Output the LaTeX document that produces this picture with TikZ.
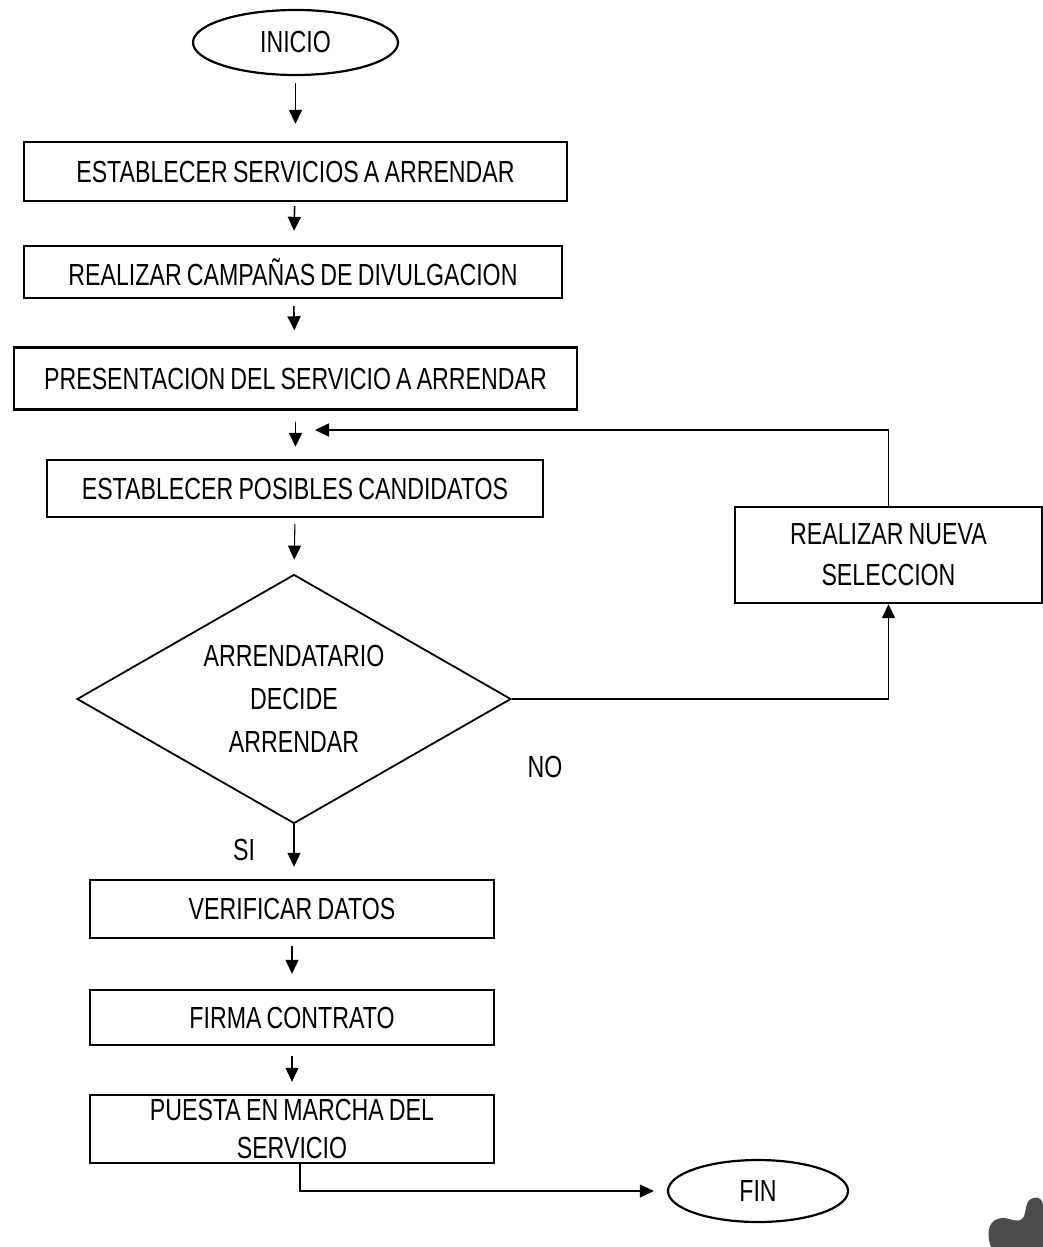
\documentclass[tikz,border=0pt]{standalone}
\usepackage{fontspec}
\setmainfont{Liberation Sans}[FakeStretch=0.76, WordSpace=0.8]
\usetikzlibrary{shapes.geometric,arrows.meta,calc}
\begin{document}
\begin{tikzpicture}[x=1pt,y=-1pt,
  every node/.style={font=\fontsize{30.5}{41}\selectfont, inner sep=0pt},
  procbox/.style={draw, line width=2.4pt, rectangle, align=center},
  term/.style={draw, line width=2.2pt, ellipse, inner sep=0pt},
  decis/.style={draw, line width=1.8pt, diamond, aspect=1.743, minimum width=434pt, minimum height=249pt, align=center},
  arr/.style={line width=1.6pt, -{Triangle[length=14pt,width=13pt]}},
  thinarr/.style={line width=1.1pt, -{Triangle[length=14pt,width=13pt]}}
]
\useasboundingbox (0,0) rectangle (1043,1247);

\node[term, minimum width=205pt, minimum height=65pt] (inicio) at (295.5,42.5) {INICIO};
\node[procbox, minimum width=543pt, minimum height=59pt] (b1) at (295.5,171.5) {ESTABLECER SERVICIOS A ARRENDAR};
\node[procbox, minimum width=538pt, minimum height=52pt] (b2) at (293,272) {REALIZAR CAMPAÑAS DE DIVULGACION};
\node[procbox, minimum width=563pt, minimum height=62pt] (b3) at (295.5,378.5) {PRESENTACION DEL SERVICIO A ARRENDAR};
\node[procbox, minimum width=496pt, minimum height=57pt] (b4) at (295,488.5) {ESTABLECER POSIBLES CANDIDATOS};
\node[decis, font=\fontsize{30.5}{43}\selectfont] (dia) at (294,699) {ARRENDATARIO\\DECIDE\\ARRENDAR};
\node[procbox, minimum width=307pt, minimum height=96pt] (nueva) at (888.5,555) {REALIZAR NUEVA\\SELECCION};
\node[procbox, minimum width=404pt, minimum height=58pt] (verif) at (292,909) {VERIFICAR DATOS};
\node[procbox, minimum width=404pt, minimum height=55pt] (firma) at (292,1017.5) {FIRMA CONTRATO};
\node[procbox, minimum width=404pt, minimum height=68pt, font=\fontsize{30.5}{38}\selectfont] (puesta) at (292,1129) {PUESTA EN MARCHA DEL\\SERVICIO};
\node[term, minimum width=180pt, minimum height=62pt] (fin) at (758,1191) {FIN};

\node (no) at (545,767) {NO};
\node (si) at (244,850) {SI};

\coordinate (loopend) at (315,430);

\draw[arr, shorten <=7pt, shorten >=17pt] (inicio) -- (b1);
\draw[arr, shorten <=4pt, shorten >=14pt] (b1) -- (b2);
\draw[arr, shorten <=7pt, shorten >=16pt] (b2) -- (b3);
\draw[arr, shorten <=11pt, shorten >=12pt] (b3.south) -- (b3.south |- b4.north);
\draw[thinarr, shorten <=6pt, shorten >=14pt] (b4.south) -- (dia.north);
\draw[thinarr, shorten >=12pt] (dia.south) -- (dia.south |- verif.north);
\draw[thinarr, shorten <=7pt, shorten >=15pt] (verif) -- (firma);
\draw[thinarr, shorten <=10pt, shorten >=12pt] (firma) -- (puesta);
\draw[thinarr, shorten >=13pt] ([xshift=8pt]puesta.south) |- (fin.west);
\draw[arr] (dia.east) -| (nueva.south);
\draw[arr] (nueva.north) |- (loopend);

\fill[black!70] (991,1247) .. controls (985,1230) and (990,1219) .. (1002,1218)
  .. controls (1012,1218) and (1017,1224) .. (1023,1218)
  .. controls (1027,1212) and (1024,1201) .. (1033,1198)
  .. controls (1040,1196) and (1043,1201) .. (1043,1206)
  -- (1043,1247) -- cycle;
\end{tikzpicture}
\end{document}
